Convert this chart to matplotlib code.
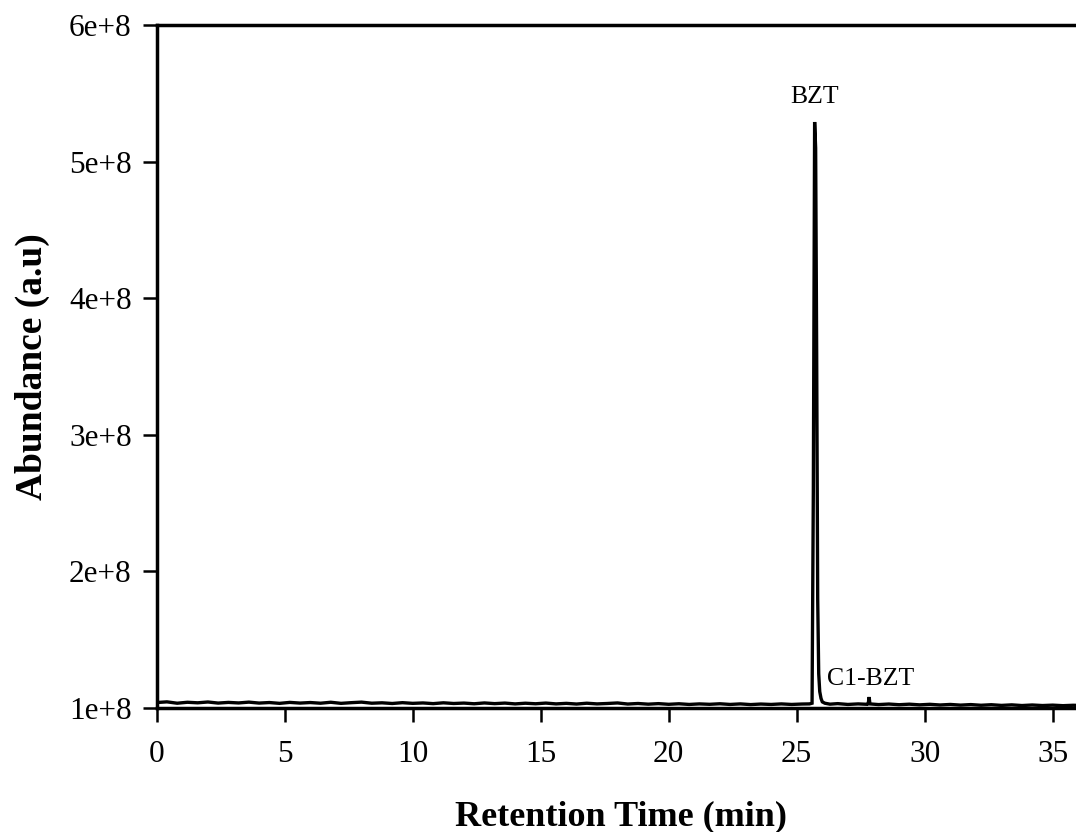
import matplotlib
matplotlib.use("Agg")
import matplotlib.pyplot as plt

# Retention time (min) and abundance (a.u.)
retention_time = [
    0.0, 0.4, 0.8, 1.2, 1.6, 2.0, 2.4, 2.8, 3.2, 3.6, 4.0, 4.4, 4.8, 5.2, 5.6,
    6.0, 6.4, 6.8, 7.2, 7.6, 8.0, 8.4, 8.8, 9.2, 9.6, 10.0, 10.4, 10.8, 11.2,
    11.6, 12.0, 12.4, 12.8, 13.2, 13.6, 14.0, 14.4, 14.8, 15.2, 15.6, 16.0,
    16.4, 16.8, 17.2, 17.6, 18.0, 18.4, 18.8, 19.2, 19.6, 20.0, 20.4, 20.8,
    21.2, 21.6, 22.0, 22.4, 22.8, 23.2, 23.6, 24.0, 24.4, 24.8, 25.2, 25.5,
    25.6, 25.65, 25.7, 25.74, 25.78, 25.82, 25.86, 25.9, 25.95, 26.0, 26.1,
    26.3, 26.6, 27.0, 27.4, 27.75, 27.8, 27.83, 27.86, 28.2, 28.6, 29.0, 29.4,
    29.8, 30.2, 30.6, 31.0, 31.4, 31.8, 32.2, 32.6, 33.0, 33.4, 33.8, 34.2,
    34.6, 35.0, 35.4, 35.8, 36.0,
]
abundance = [
    1.040e8, 1.045e8, 1.035e8, 1.042e8, 1.038e8, 1.044e8, 1.036e8, 1.041e8,
    1.037e8, 1.043e8, 1.036e8, 1.040e8, 1.034e8, 1.041e8, 1.036e8, 1.040e8,
    1.035e8, 1.042e8, 1.034e8, 1.039e8, 1.043e8, 1.035e8, 1.038e8, 1.033e8,
    1.039e8, 1.034e8, 1.037e8, 1.032e8, 1.038e8, 1.033e8, 1.036e8, 1.031e8,
    1.037e8, 1.032e8, 1.036e8, 1.030e8, 1.035e8, 1.031e8, 1.036e8, 1.030e8,
    1.034e8, 1.029e8, 1.035e8, 1.030e8, 1.033e8, 1.037e8, 1.029e8, 1.033e8,
    1.028e8, 1.032e8, 1.027e8, 1.031e8, 1.026e8, 1.030e8, 1.027e8, 1.031e8,
    1.026e8, 1.030e8, 1.025e8, 1.029e8, 1.026e8, 1.030e8, 1.026e8, 1.029e8,
    1.030e8, 1.035e8, 2.600e8, 5.290e8, 5.100e8, 3.600e8, 1.800e8, 1.250e8,
    1.120e8, 1.070e8, 1.045e8, 1.035e8, 1.028e8, 1.032e8, 1.026e8, 1.030e8,
    1.027e8, 1.040e8, 1.080e8, 1.030e8, 1.025e8, 1.029e8, 1.024e8, 1.028e8,
    1.023e8, 1.027e8, 1.022e8, 1.026e8, 1.021e8, 1.025e8, 1.020e8, 1.024e8,
    1.019e8, 1.023e8, 1.018e8, 1.022e8, 1.018e8, 1.021e8, 1.017e8, 1.020e8,
    1.019e8,
]

x_ticks = [0, 5, 10, 15, 20, 25, 30, 35]
y_ticks = [1e8, 2e8, 3e8, 4e8, 5e8, 6e8]
y_tick_labels = ["1e+8", "2e+8", "3e+8", "4e+8", "5e+8", "6e+8"]

peak_labels = ["BZT", "C1-BZT"]
peak_label_pos = [(25.7, 5.43e8), (27.9, 1.168e8)]

plt.rcParams["font.family"] = ["Liberation Serif", "DejaVu Serif"]

fig = plt.figure(figsize=(10.76, 8.32), dpi=100)
ax = fig.add_axes([156.7 / 1076, (832 - 708) / 832, (36 * 25.6) / 1076, (708 - 25) / 832])

ax.plot(retention_time, abundance, color="black", lw=2.4, solid_joinstyle="miter")

ax.set_xlim(0, 36)
ax.set_ylim(1e8, 6e8)
ax.set_xticks(x_ticks)
ax.set_xticklabels([str(t) for t in x_ticks], fontsize=22.5)
ax.set_yticks(y_ticks)
ax.set_yticklabels(y_tick_labels, fontsize=22.5)
ax.tick_params(direction="out", length=10, width=1.8)
ax.tick_params(axis="y", pad=8)
ax.tick_params(axis="x", pad=13)

for side in ["left", "bottom", "top"]:
    ax.spines[side].set_linewidth(2.5)
ax.spines["right"].set_visible(False)

ax.set_xlabel("Retention Time (min)", fontsize=26, fontweight="bold")
ax.xaxis.set_label_coords((621 - 156.7) / (36 * 25.6), -0.135)
ax.set_ylabel("Abundance (a.u)", fontsize=27, fontweight="bold", labelpad=14)

for lab, (px, py) in zip(peak_labels, peak_label_pos):
    ax.text(px, py, lab, fontsize=18.5, ha="center", va="baseline")

fig.savefig("out.png", dpi=100)
